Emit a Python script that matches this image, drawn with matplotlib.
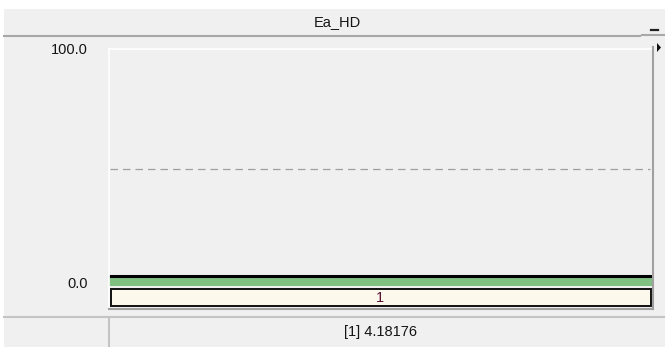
import matplotlib
matplotlib.use("Agg")
import matplotlib.pyplot as plt
import matplotlib.transforms as mtransforms
from matplotlib.patches import Rectangle, Polygon
from matplotlib.lines import Line2D

# ---- data ----
title = "Ea_HD"
categories = ["1"]
values = [4.18176]
y_ticks = [0.0, 100.0]
ref_line = 50.0
status_text = "[1] 4.18176"

W, H = 665, 347
plt.rcParams['font.family'] = ['Liberation Sans', 'DejaVu Sans']
fig = plt.figure(figsize=(W / 100, H / 100), dpi=100)
fig.patch.set_facecolor('#f0f0f0')
FS = 10.5
TXT = '#151515'


def fx(x):
    return x / W


def fy(y):
    return 1 - y / H


def frect(x0, y0, x1, y1, **kw):
    fig.patches.append(Rectangle((fx(x0), fy(y1)), (x1 - x0) / W, (y1 - y0) / H,
                                 transform=fig.transFigure, **kw))


def fline(xs, ys, **kw):
    fig.lines.append(Line2D([fx(v) for v in xs], [fy(v) for v in ys],
                            transform=fig.transFigure, **kw))


# white margins
frect(0, 0, W, 9, facecolor='white', edgecolor='none')
frect(0, 0, 4, H, facecolor='white', edgecolor='none')
# title bar
frect(4, 9, 640, 35, facecolor='#f0f0f0', edgecolor='none')
fline([4, 640], [35.5, 35.5], color='#a8a8a8', lw=1.5)
# minus button
frect(642, 9, W, 34, facecolor='#f0f0f0', edgecolor='none')
fline([642, W], [34.5, 34.5], color='#a8a8a8', lw=1.5)
fline([651, 658], [29.5, 29.5], color='#202020', lw=1.6)
fig.text(fx(337), fy(22), title, ha='center', va='center', fontsize=FS, color=TXT)

# main axes
px0, px1 = 109, 652
ptop, pzero = 49, 286
ppu = 2.34
ax = fig.add_axes([fx(px0), fy(pzero), (px1 - px0) / W, (pzero - ptop) / H])
ax.set_facecolor('#f0f0f0')
ax.set_xlim(-0.5, len(categories) - 0.5)
ax.set_ylim(0, (pzero - ptop) / ppu)
for s in ax.spines.values():
    s.set_visible(False)
ax.set_xticks([])
ax.set_yticks(y_ticks)
ax.set_yticklabels([f"{v:.1f}" for v in y_ticks], fontsize=FS, color=TXT)
ax.tick_params(axis='y', length=0, pad=15)
shift = mtransforms.ScaledTranslation(0, 3.5 / 100, fig.dpi_scale_trans)
for lab in ax.get_yticklabels():
    lab.set_transform(lab.get_transform() + shift)
ax.axhline(ref_line, xmin=0.002, xmax=0.996, color='#a0a0a0', lw=0.9,
           linestyle=(0, (6, 4)))
xs = list(range(len(categories)))
ax.bar(xs, values, width=1.0, color='#80c080', edgecolor='none', clip_on=False)
for x, v in zip(xs, values):
    ax.hlines(v, x - 0.5, x + 0.5, colors='black', lw=2.2, clip_on=False)

# frame around plot (3D look)
fline([px0, px1], [49, 49], color='white', lw=1.2)
fline([px0, px0], [49, 308], color='white', lw=1.2)
fline([px1 + 0.5, px1 + 0.5], [47, 308.5], color='#a0a0a0', lw=1.5)
fline([px0, px1 + 0.5], [308.5, 308.5], color='#a0a0a0', lw=1.5)

# category label box
frect(110.5, 288.5, 650.5, 306, facecolor='#fdf8ec', edgecolor='#101010', lw=1.4)
for i, c in enumerate(categories):
    fig.text(fx(380), fy(297.5), c, ha='center', va='center', fontsize=FS, color='#5a1030')

# right triangle marker
fig.patches.append(Polygon([[fx(657), fy(43)], [fx(661), fy(47.5)], [fx(657), fy(52)]],
                           closed=True, transform=fig.transFigure,
                           facecolor='#101010', edgecolor='none'))

# status bar
fline([4, W], [316.5, 316.5], color='#c4c4c4', lw=1.5)
fline([109, 109], [317, H], color='#c4c4c4', lw=1.5)
fig.text(fx(380), fy(332), status_text, ha='center', va='center', fontsize=FS, color=TXT)

fig.savefig('out.png', dpi=100, facecolor=fig.get_facecolor())
